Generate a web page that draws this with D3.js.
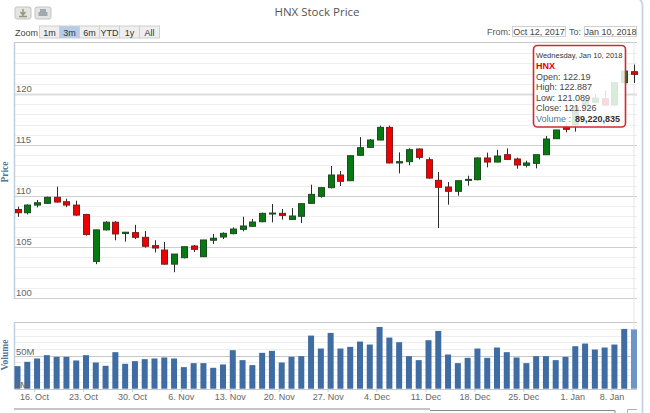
<!DOCTYPE html>
<html><head><meta charset="utf-8">
<style>html,body{margin:0;padding:0;background:#fff;overflow:hidden}svg{display:block}text{font-family:"Liberation Sans",sans-serif}</style>
<script src="https://cdn.jsdelivr.net/npm/d3@7"></script></head><body><svg id="c" width="650" height="413"></svg>
<script>
const dates=["Oct 12","Oct 13","Oct 16","Oct 17","Oct 18","Oct 19","Oct 20","Oct 23","Oct 24","Oct 25","Oct 26","Oct 27","Oct 30","Oct 31","Nov 1","Nov 2","Nov 3","Nov 6","Nov 7","Nov 8","Nov 9","Nov 10","Nov 13","Nov 14","Nov 15","Nov 16","Nov 17","Nov 20","Nov 21","Nov 22","Nov 23","Nov 24","Nov 27","Nov 28","Nov 29","Nov 30","Dec 1","Dec 4","Dec 5","Dec 6","Dec 7","Dec 8","Dec 11","Dec 12","Dec 13","Dec 14","Dec 15","Dec 18","Dec 19","Dec 20","Dec 21","Dec 22","Dec 25","Dec 26","Dec 27","Dec 28","Dec 29","Jan 2","Jan 3","Jan 4","Jan 5","Jan 8","Jan 9","Jan 10"];
const open=[108.68,108.36,109.11,109.28,109.87,109.44,109.11,108.19,103.59,106.68,107.43,106.32,106.41,105.95,105.13,104.7,103.32,103.95,105.1,104.05,105.66,105.98,106.31,106.73,107.03,107.48,108.27,108.3,107.71,108.01,109.28,109.97,110.82,112.06,111.5,113.99,114.77,115.49,116.73,113.24,113.37,114.61,113.56,111.54,110.88,110.46,111.57,111.6,113.73,113.33,114.05,113.63,113.01,113.2,114.05,115.62,116.8,116.96,118.9,119.19,119.54,118.92,121.11,122.19];
const high=[108.95,109.18,109.61,109.93,110.92,109.74,109.54,108.26,106.68,107.53,107.53,106.48,107.17,106.58,105.66,105.49,104.31,105.03,105.2,105.69,106.28,106.44,106.93,107.97,107.75,108.37,109.22,108.73,108.82,109.25,111.11,110.85,112.94,112.45,113.99,115.78,115.59,116.9,116.9,114.28,114.67,114.67,113.79,112.35,111.37,111.5,111.99,113.79,114.25,114.54,114.67,113.76,113.46,114.05,115.88,116.5,117.13,118.9,119.8,119.97,120.32,121.11,122.25,122.887];
const low=[107.96,108.19,108.88,109.24,109.34,108.91,108.03,106.12,103.32,106.61,105.66,105.53,105.79,104.93,104.47,103.26,102.53,103.88,104.51,104.01,105.3,105.78,106.24,106.54,106.99,107.42,107.42,107.68,107.68,107.35,109.22,109.84,110.75,110.98,111.47,113.95,114.74,115.46,113.2,112.22,113.01,113.59,111.7,106.86,109.15,110.03,111.01,111.54,112.81,113.3,113.56,112.68,112.81,112.71,114.02,115.59,116.24,116.31,118.7,119.09,118.82,118.85,121.11,121.089];
const close=[108.36,109.11,109.34,109.87,109.41,109.11,108.13,106.22,106.68,107.43,106.28,106.45,105.95,105.07,104.9,103.32,104.31,105.03,104.77,105.69,105.86,106.34,106.76,107.06,107.45,108.3,108.33,108.1,108.04,109.25,110.16,110.82,112.06,111.44,113.95,114.74,115.49,116.73,113.24,113.37,114.54,113.79,111.76,110.85,110.46,111.5,111.63,113.73,113.33,113.92,113.59,113.04,113.24,114.05,115.59,116.47,116.54,118.73,119.3,119.6,118.92,121.11,122.25,121.926];
const volume=[34,40.5,45.5,50.5,48,48,42.5,50.5,39.5,34.5,55,37.5,41.5,44.5,45.5,47,45.5,32.5,38.5,38.5,31.5,36.5,58,43,35.5,54,57,39.5,48,49,80,60.5,84,60.5,63,71,66.5,93,77,70,49,43,73,87,51.5,38.5,46.5,60.5,46.5,62,55,47,38.5,49,49,43,48,64,68,59,62,66.5,90,89.22];
const priceTicks=[100,105,110,115,120];
const volumeTicks=[0,50,100];
const tickDates=["Oct 16","Oct 23","Oct 30","Nov 6","Nov 13","Nov 20","Nov 27","Dec 4","Dec 11","Dec 18","Dec 25","Jan 2","Jan 8"];
const tickLabels=["16. Oct","23. Oct","30. Oct","6. Nov","13. Nov","20. Nov","27. Nov","4. Dec","11. Dec","18. Dec","25. Dec","1. Jan","8. Jan"];
const rangeButtons=["1m","3m","6m","YTD","1y","All"];
const tooltipLines=["Open: 122.19","High: 122.887","Low: 121.089","Close: 121.926"];

const L=14.5,R=637,svg=d3.select("#c");
const x=d3.scalePoint().domain(dates).range([17.5,634]);
const y=d3.scaleLinear().domain([100,125.1]).range([298,42]);
const yv=d3.scaleLinear().domain([0,100]).range([388.7,322.3]);
const idx=d3.range(dates.length);

function grid(scale,vals,cls,color,w){svg.append("g").selectAll("line").data(vals).join("line")
  .attr("x1",L).attr("x2",R).attr("y1",d=>Math.round(scale(d))+.5).attr("y2",d=>Math.round(scale(d))+.5)
  .attr("stroke",color).attr("stroke-width",w);}
grid(y,d3.range(101,126).filter(d=>d%5),"m","#eeeeee",1);
grid(y,priceTicks.concat([115]).filter((d,i,a)=>a.indexOf(d)===i),"M","#cfcfcf",1);
grid(yv,d3.range(10,100,10).filter(d=>d%50),"m","#eeeeee",1);
grid(yv,volumeTicks,"M","#c8c8c8",1);
grid(y,[120],"M","#dddddd",2);
svg.append("line").attr("x1",L).attr("x2",R).attr("y1",42.5).attr("y2",42.5).attr("stroke","#c8c8c8");
[[42,299],[322,389]].forEach(r=>svg.append("line").attr("x1",L).attr("x2",L).attr("y1",r[0]).attr("y2",r[1]).attr("stroke","#c0d0e0").attr("stroke-width",1.5));

// crosshair
svg.append("line").attr("x1",x(dates[63])).attr("x2",x(dates[63])).attr("y1",42).attr("y2",389).attr("stroke","#e2e6ea");

// volume
svg.append("g").selectAll("rect").data(idx).join("rect")
 .attr("x",i=>x(dates[i])-3).attr("width",6).attr("y",i=>yv(volume[i])).attr("height",i=>yv(0)-yv(volume[i]))
 .attr("fill",i=>i===63?"#6c94c4":"#3f6ca3");

// candles
const cg=svg.append("g").selectAll("g").data(idx).join("g");
cg.append("line").attr("x1",i=>Math.round(x(dates[i]))+.5).attr("x2",i=>Math.round(x(dates[i]))+.5)
  .attr("y1",i=>y(high[i])).attr("y2",i=>y(low[i])).attr("stroke","#2b2b2b");
cg.append("rect").attr("x",i=>Math.round(x(dates[i]))-2.5).attr("width",6)
  .attr("y",i=>y(Math.max(open[i],close[i]))).attr("height",i=>Math.max(1,Math.abs(y(open[i])-y(close[i]))))
  .attr("fill",i=>close[i]>=open[i]?"#067a10":"#f00000").attr("stroke",i=>close[i]>=open[i]?"#1f4a22":"#7a2020");

// labels
const lab="#666";
svg.append("g").selectAll("text").data(priceTicks).join("text").attr("x",16).attr("y",d=>y(d)-2).text(d=>d).attr("font-size",9.5).attr("fill",lab);
svg.append("g").selectAll("text").data([0,50]).join("text").attr("x",d=>d?16:15).attr("y",d=>yv(d)-1).text(d=>d+"M").attr("font-size",9.5).attr("fill",lab);
const tg=svg.append("g").selectAll("g").data(tickDates).join("g");
tg.append("line").attr("x1",d=>x(d)-2.5).attr("x2",d=>x(d)-2.5).attr("y1",389).attr("y2",392).attr("stroke","#c0d0e0");
tg.append("text").attr("x",d=>x(d)-2.5).attr("y",400).attr("text-anchor","middle").text((d,i)=>tickLabels[i]).attr("font-size",9).attr("fill",lab);
function ylab(t,cy){svg.append("text").attr("transform",`translate(8,${cy}) rotate(-90)`).attr("text-anchor","middle").text(t)
 .attr("font-size",9.5).attr("font-weight","bold").attr("fill","#4d759e").style("font-family","'Liberation Serif',serif");}
ylab("Price",172);ylab("Volume",355);

svg.append("text").attr("x",317).attr("y",16).attr("text-anchor","middle").text("HNX Stock Price").attr("font-size",11.5).attr("fill","#555").style("font-family","'Open Sans',sans-serif");

// toolbar buttons
[[15,"#c8ccc0"],[35,"#b8bec4"]].forEach(b=>svg.append("rect").attr("x",b[0]).attr("y",7).attr("width",16).attr("height",12).attr("rx",2).attr("fill","#e4e4e0").attr("stroke","#c4c4c4"));
svg.append("path").attr("d","M23 9v5M20.5 12l2.5 3 2.5-3M19 16.5h8").attr("stroke","#8f9a80").attr("stroke-width",1.5).attr("fill","none");
svg.append("path").attr("d","M40 9h6v3h-6zM38.5 12h9v4h-9z").attr("fill","#a0a8b0");
svg.append("text").attr("x",15).attr("y",36).text("Zoom").attr("font-size",9).attr("fill","#444");
const bw=20,bg=svg.append("g").selectAll("g").data(rangeButtons).join("g");
bg.append("rect").attr("x",(d,i)=>39.5+i*bw).attr("y",26).attr("width",bw).attr("height",12).attr("fill",(d,i)=>i===1?"#b4cce6":"#eeeeee").attr("stroke","#cfcfcf");
bg.append("text").attr("x",(d,i)=>49.5+i*bw).attr("y",35.5).attr("text-anchor","middle").text(d=>d).attr("font-size",9).attr("fill","#333");

// date inputs
svg.append("text").attr("x",487).attr("y",35).text("From:").attr("font-size",9).attr("fill","#555");
svg.append("text").attr("x",569).attr("y",35).text("To:").attr("font-size",9).attr("fill","#555");
[[512.5,53,"Oct 12, 2017"],[584.5,52,"Jan 10, 2018"]].forEach(b=>{
 svg.append("rect").attr("x",b[0]).attr("y",26.5).attr("width",b[1]).attr("height",10).attr("fill","#fff").attr("stroke","#d0d0d0");
 svg.append("text").attr("x",b[0]+b[1]/2).attr("y",35).attr("text-anchor","middle").text(b[2]).attr("font-size",9).attr("fill","#444");});

// tooltip
svg.append("rect").attr("x",533.5).attr("y",45.5).attr("width",92).attr("height",81.5).attr("rx",4).attr("fill","#fff").attr("fill-opacity",.85).attr("stroke","#cf2a33").attr("stroke-width",1.6);
svg.append("text").attr("x",536).attr("y",57.5).text("Wednesday, Jan 10, 2018").attr("font-size",7.5).attr("fill","#333");
svg.append("text").attr("x",536).attr("y",68.5).text("HNX").attr("font-size",9).attr("font-weight","bold").attr("fill","#e00000");
svg.append("g").selectAll("text").data(tooltipLines).join("text").attr("x",536).attr("y",(d,i)=>79.5+i*10.6).text(d=>d).attr("font-size",9).attr("fill","#444");
svg.append("text").attr("x",536).attr("y",121.5).text("Volume :").attr("font-size",9).attr("fill","#4d759e");
svg.append("text").attr("x",575).attr("y",121.5).text("89,220,835").attr("font-size",9).attr("font-weight","bold").attr("fill","#333");

// frame and navigator stubs
svg.append("path").attr("d","M636 -2 Q642.5 -1 642.5 6 V413").attr("fill","none").attr("stroke","#c5d3e6").attr("stroke-width",1.8);
svg.append("line").attr("x1",14).attr("x2",430).attr("y1",409).attr("y2",409).attr("stroke","#b0b0b0").attr("stroke-width",1.6);
svg.append("path").attr("d","M430 410.5H615V413").attr("fill","none").attr("stroke","#8a8a8a");
svg.append("path").attr("d","M627.5 413V409.5H637").attr("fill","none").attr("stroke","#b0b0b0");
</script></body></html>
